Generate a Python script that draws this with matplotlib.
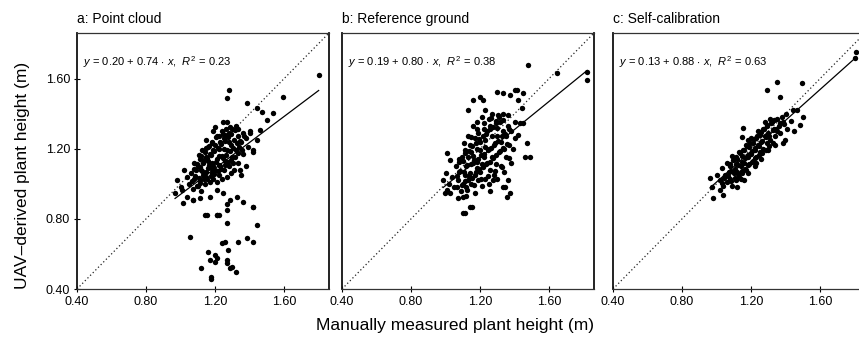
import matplotlib
matplotlib.use("Agg")
import matplotlib.pyplot as plt
import numpy as np

plt.rcParams['font.family'] = ['Liberation Sans', 'DejaVu Sans']
plt.rcParams['mathtext.fontset'] = 'custom'
plt.rcParams['mathtext.rm'] = 'Liberation Sans'
plt.rcParams['mathtext.it'] = 'Liberation Sans:italic'

# panel titles and fitted lines
titles = ["a: Point cloud", "b: Reference ground", "c: Self-calibration"]
intercepts = [0.20, 0.19, 0.13]
slopes = [0.74, 0.80, 0.88]
r2 = [0.23, 0.38, 0.63]
ticks = [0.40, 0.80, 1.20, 1.60]

# a: point cloud (manual, uav)
a_x = [1.05, 1.07, 1.08, 1.10, 1.06, 1.09, 1.11, 1.12, 1.04, 1.13,
       1.10, 1.12, 1.14, 1.15, 1.13, 1.16, 1.17, 1.11, 1.15, 1.18,
       1.18, 1.19, 1.20, 1.17, 1.21, 1.22, 1.19, 1.23, 1.16, 1.24,
       1.22, 1.25, 1.26, 1.23, 1.27, 1.28, 1.25, 1.29, 1.30, 1.21,
       1.31, 1.32, 1.28, 1.33, 1.34, 1.30, 1.35, 1.36, 1.32, 1.38,
       1.14, 1.20, 1.26, 1.18, 1.24, 1.27, 1.31, 1.33, 1.36, 1.39,
       1.08, 1.12, 1.16, 1.19, 1.22, 1.25, 1.28, 1.21, 1.24, 1.29,
       1.02, 1.00, 0.98, 1.15, 1.19, 1.27, 1.40, 1.42, 1.38, 1.35,
       1.065, 1.085, 1.105, 1.125, 1.145, 1.165, 1.185, 1.205, 1.225, 1.245,
       1.265, 1.285, 1.305, 1.325, 1.345, 1.365,
       1.075, 1.095, 1.115, 1.135, 1.155, 1.175, 1.195, 1.215, 1.235, 1.255,
       1.275, 1.295, 1.315, 1.335,
       1.095, 1.115, 1.135, 1.155, 1.175, 1.195, 1.215, 1.235, 1.255, 1.275,
       1.295, 1.315, 1.335, 1.355,
       1.105, 1.125, 1.145, 1.165, 1.185, 1.205, 1.225, 1.245, 1.265, 1.285,
       1.154, 1.21, 1.22, 1.27, 1.42, 1.27, 1.44, 1.055, 1.24, 1.258,
       1.33, 1.385, 1.42, 1.275, 1.16, 1.20, 1.17, 1.20, 1.21, 1.27,
       1.27, 1.287, 1.30, 1.32, 1.12, 1.177, 1.177, 1.015, 1.07,
       1.28, 1.27, 1.385, 1.44, 1.47, 1.594, 1.80, 1.536, 1.50, 1.246, 1.20,
       0.968, 1.009, 1.038, 1.07, 1.113, 1.17, 1.21, 1.246, 1.287, 1.327,
       1.362, 1.42, 1.142, 1.21, 1.27, 1.443, 1.46, 1.403, 1.42, 1.345, 1.304]
a_y = [1.00, 0.97, 1.03, 0.99, 1.06, 1.08, 1.02, 0.96, 1.04, 1.05,
       1.10, 1.08, 1.00, 1.04, 1.12, 1.09, 1.01, 1.14, 1.15, 1.06,
       1.12, 1.03, 1.08, 1.17, 1.14, 1.05, 1.19, 1.10, 1.21, 1.16,
       1.20, 1.08, 1.13, 1.24, 1.19, 1.10, 1.26, 1.22, 1.15, 1.27,
       1.25, 1.19, 1.29, 1.27, 1.21, 1.31, 1.24, 1.29, 1.33, 1.26,
       1.18, 1.22, 1.28, 1.24, 1.30, 1.04, 1.08, 1.12, 1.17, 1.21,
       1.12, 1.16, 1.13, 1.10, 1.16, 1.20, 1.24, 1.01, 1.03, 1.06,
       1.08, 0.98, 1.02, 1.25, 1.30, 1.35, 1.30, 1.18, 1.10, 1.05,
       1.015, 1.045, 1.035, 1.075, 1.065, 1.105, 1.085, 1.125, 1.105, 1.145,
       1.165, 1.185, 1.205, 1.235, 1.245, 1.275,
       1.085, 1.115, 1.095, 1.135, 1.145, 1.165, 1.185, 1.205, 1.225, 1.245,
       1.265, 1.285, 1.305, 1.315,
       0.985, 1.005, 1.025, 1.025, 1.045, 1.055, 1.075, 1.085, 1.105, 1.125,
       1.135, 1.155, 1.175, 1.195,
       1.165, 1.195, 1.205, 1.215, 1.235, 1.265, 1.275, 1.285, 1.315, 1.325,
       0.823, 0.823, 0.823, 0.886, 0.87, 0.777, 0.766, 0.697, 0.66, 0.67,
       0.67, 0.69, 0.67, 0.62, 0.61, 0.595, 0.566, 0.554, 0.577, 0.566,
       0.55, 0.52, 0.526, 0.497, 0.52, 0.469, 0.457, 0.89, 0.91,
       1.537, 1.49, 1.46, 1.43, 1.41, 1.497, 1.62, 1.405, 1.366, 1.354, 1.326,
       0.949, 0.966, 0.926, 0.909, 0.92, 0.926, 0.966, 0.949, 0.909, 0.926,
       0.897, 0.869, 0.823, 0.823, 0.851, 1.251, 1.309, 1.291, 1.194, 1.08, 1.12]

# b: reference ground
b_x = [1.05, 1.07, 1.09, 1.08, 1.10, 1.11, 1.12, 1.06, 1.13, 1.04,
       1.12, 1.14, 1.15, 1.16, 1.13, 1.17, 1.18, 1.10, 1.15, 1.19,
       1.19, 1.20, 1.21, 1.18, 1.22, 1.23, 1.20, 1.24, 1.17, 1.25,
       1.23, 1.26, 1.27, 1.24, 1.28, 1.29, 1.26, 1.30, 1.31, 1.22,
       1.32, 1.33, 1.29, 1.34, 1.35, 1.31, 1.36, 1.37, 1.33, 1.38,
       1.14, 1.19, 1.25, 1.16, 1.21, 1.28, 1.32, 1.35, 1.39, 1.40,
       1.08, 1.11, 1.16, 1.20, 1.23, 1.27, 1.30, 1.21, 1.25, 1.30,
       1.02, 1.00, 1.13, 1.18, 1.23, 1.27, 1.36, 1.40, 1.42, 1.12,
       1.17, 1.07, 1.26, 1.34, 1.38,
       1.065, 1.085, 1.105, 1.125, 1.145, 1.165, 1.185, 1.205, 1.225, 1.245,
       1.265, 1.285, 1.305, 1.325, 1.345, 1.365,
       1.075, 1.095, 1.115, 1.135, 1.155, 1.175, 1.195, 1.215, 1.235, 1.255,
       1.275, 1.295, 1.315, 1.335,
       1.095, 1.115, 1.135, 1.155, 1.175, 1.195, 1.215, 1.235, 1.255, 1.275,
       1.295, 1.315, 1.335, 1.355,
       1.125, 1.165, 1.205, 1.245, 1.285, 1.325, 1.365,
       1.105, 1.145, 1.185, 1.225, 1.265, 1.305,
       1.478, 1.646, 1.82, 1.82, 1.30, 1.333, 1.374, 1.403, 1.42, 1.16,
       1.217, 1.13, 1.009, 1.113, 1.154, 1.443, 1.46, 1.472, 1.345, 1.362,
       0.997, 1.026, 1.067, 1.432, 1.026, 1.142, 1.10, 0.986, 1.009, 1.10,
       1.275, 1.333, 1.374, 1.357, 1.49, 1.20, 1.414, 1.45, 1.45]
b_y = [0.98, 1.02, 0.96, 1.07, 1.00, 1.05, 0.98, 1.10, 1.02, 1.04,
       1.10, 1.06, 1.00, 1.12, 1.15, 1.05, 1.09, 1.13, 1.18, 1.02,
       1.14, 1.07, 1.11, 1.20, 1.17, 1.03, 1.24, 1.12, 1.26, 1.20,
       1.25, 1.08, 1.15, 1.30, 1.22, 1.11, 1.33, 1.27, 1.18, 1.31,
       1.24, 1.30, 1.36, 1.20, 1.27, 1.38, 1.33, 1.22, 1.40, 1.30,
       1.22, 1.29, 1.37, 1.33, 1.38, 1.05, 1.10, 1.15, 1.20, 1.26,
       1.14, 1.19, 1.16, 1.19, 1.21, 1.27, 1.32, 0.99, 1.00, 1.03,
       1.00, 1.06, 1.27, 1.35, 1.42, 1.40, 1.39, 1.35, 1.28, 0.93,
       0.95, 0.92, 0.96, 1.07, 1.12,
       1.045, 1.075, 1.065, 1.105, 1.115, 1.135, 1.125, 1.165, 1.155, 1.195,
       1.205, 1.235, 1.245, 1.275, 1.285, 1.315,
       1.125, 1.155, 1.175, 1.185, 1.215, 1.235, 1.255, 1.275, 1.285, 1.315,
       1.325, 1.345, 1.355, 1.365,
       0.995, 1.015, 1.045, 1.035, 1.065, 1.085, 1.095, 1.115, 1.125, 1.145,
       1.165, 1.185, 1.205, 1.225,
       0.965, 0.995, 1.025, 1.045, 1.075, 1.095, 1.145,
       1.235, 1.265, 1.315, 1.345, 1.375, 1.395,
       1.68, 1.634, 1.64, 1.594, 1.526, 1.52, 1.509, 1.537, 1.48, 1.48,
       1.48, 1.42, 1.177, 0.834, 0.869, 1.434, 1.154, 1.234, 0.983, 1.023,
       0.949, 0.949, 0.983, 1.349, 1.137, 0.869, 0.834, 1.023, 0.966, 0.926,
       1.023, 0.983, 0.949, 0.926, 1.154, 1.497, 1.537, 1.52, 1.349]

# c: self-calibration
c_x = [1.02, 1.04, 1.05, 1.06, 1.07, 1.08, 1.09, 1.08, 1.10, 1.11,
       1.11, 1.12, 1.13, 1.12, 1.14, 1.15, 1.15, 1.16, 1.17, 1.16,
       1.18, 1.19, 1.19, 1.20, 1.21, 1.21, 1.22, 1.23, 1.23, 1.24,
       1.25, 1.25, 1.26, 1.27, 1.27, 1.28, 1.29, 1.29, 1.30, 1.31,
       1.32, 1.33, 1.34, 1.35, 1.36, 1.37, 1.38, 1.39, 1.40, 1.41,
       1.10, 1.13, 1.17, 1.20, 1.24, 1.28, 1.14, 1.18, 1.22, 1.26,
       1.30, 1.34, 1.06, 1.09, 1.43, 1.44, 1.18, 1.23, 1.31, 1.35,
       1.00, 1.03, 1.45, 1.12, 1.16,
       1.045, 1.065, 1.085, 1.105, 1.125, 1.145, 1.165, 1.185, 1.205, 1.225,
       1.245, 1.265, 1.285, 1.305, 1.325, 1.345, 1.365, 1.385,
       1.075, 1.095, 1.115, 1.135, 1.155, 1.175, 1.195, 1.215, 1.235, 1.255,
       1.275, 1.295, 1.315, 1.335,
       1.085, 1.105, 1.125, 1.145, 1.165, 1.185, 1.205, 1.225, 1.245, 1.265,
       1.285, 1.305, 1.325,
       1.35, 1.496, 1.293, 1.367, 1.154, 1.148, 1.386, 1.397, 1.484, 1.81,
       1.80, 0.962, 0.974, 1.02, 1.038, 0.98, 1.03, 1.50, 1.467]
c_y = [1.02, 0.99, 1.05, 1.01, 1.07, 1.03, 0.99, 1.10, 1.06, 1.02,
       1.11, 1.07, 1.04, 1.14, 1.10, 1.06, 1.16, 1.12, 1.08, 1.19,
       1.15, 1.11, 1.21, 1.17, 1.13, 1.23, 1.19, 1.15, 1.26, 1.22,
       1.18, 1.28, 1.24, 1.20, 1.31, 1.27, 1.23, 1.33, 1.29, 1.25,
       1.35, 1.31, 1.27, 1.37, 1.33, 1.29, 1.38, 1.34, 1.40, 1.31,
       1.14, 1.18, 1.22, 1.26, 1.30, 1.35, 1.03, 1.06, 1.10, 1.14,
       1.19, 1.22, 1.12, 1.16, 1.36, 1.42, 1.25, 1.12, 1.37, 1.30,
       1.05, 1.09, 1.30, 0.98, 1.02,
       1.035, 1.045, 1.075, 1.085, 1.105, 1.125, 1.145, 1.165, 1.185, 1.205,
       1.215, 1.245, 1.265, 1.275, 1.305, 1.315, 1.345, 1.355,
       1.115, 1.135, 1.155, 1.175, 1.195, 1.215, 1.235, 1.255, 1.275, 1.295,
       1.315, 1.335, 1.345, 1.365,
       1.015, 1.035, 1.055, 1.075, 1.085, 1.105, 1.125, 1.145, 1.165, 1.175,
       1.195, 1.215, 1.235,
       1.583, 1.577, 1.537, 1.497, 1.32, 1.269, 1.234, 1.251, 1.337, 1.75,
       1.72, 1.034, 0.983, 0.966, 0.937, 0.92, 1.006, 1.383, 1.423]

panels = [(a_x, a_y), (b_x, b_y), (c_x, c_y)]

fig = plt.figure(figsize=(8.59, 3.40), dpi=100)
lefts = [77 / 859, 342 / 859, 613 / 859]
lim = (0.40, 1.86)

for i, (xs, ys) in enumerate(panels):
    ax = fig.add_axes([lefts[i], 0.15, 252 / 859, 0.753])
    xs = np.array(xs)
    ys = np.array(ys)
    ax.plot(lim, lim, linestyle=(0, (1, 2)), color="#222222", lw=0.9)
    xf = np.array([xs.min(), xs.max()])
    ax.plot(xf, intercepts[i] + slopes[i] * xf, color="black", lw=0.9)
    ax.scatter(xs, ys, s=15, color="black", linewidths=0, zorder=3)
    ax.set_xlim(lim)
    ax.set_ylim(lim)
    ax.set_xticks(ticks)
    ax.set_xticklabels(["%.2f" % t for t in ticks], fontsize=9)
    ax.tick_params(axis="x", direction="inout", length=4, pad=3, width=0.8)
    if i == 0:
        ax.set_yticks(ticks)
        ax.set_yticklabels(["%.2f" % t for t in ticks], fontsize=9)
        ax.tick_params(axis="y", direction="inout", length=4, pad=3, width=0.8)
    else:
        ax.set_yticks([])
    for s in ["left", "right"]:
        ax.spines[s].set_linewidth(1.3)
        ax.spines[s].set_color("#111111")
    for s in ["top", "bottom"]:
        ax.spines[s].set_linewidth(0.9)
        ax.spines[s].set_linestyle((0, (2, 1)))
        ax.spines[s].set_color("#333333")
    ax.set_title(titles[i], loc="left", fontsize=10, pad=7)
    ax.text(0.025, 0.885,
            r"$y$ = %.2f + %.2f $\cdot$ $x$,  $R^2$ = %.2f" % (intercepts[i], slopes[i], r2[i]),
            transform=ax.transAxes, fontsize=8, va="center")

fig.text(0.53, 0.044, "Manually measured plant height (m)", ha="center", va="center", fontsize=12.5)
fig.text(0.026, 0.485, "UAV\u2013derived plant height (m)", ha="center", va="center",
         rotation=90, fontsize=12.5)

fig.savefig("out.png", dpi=100)
